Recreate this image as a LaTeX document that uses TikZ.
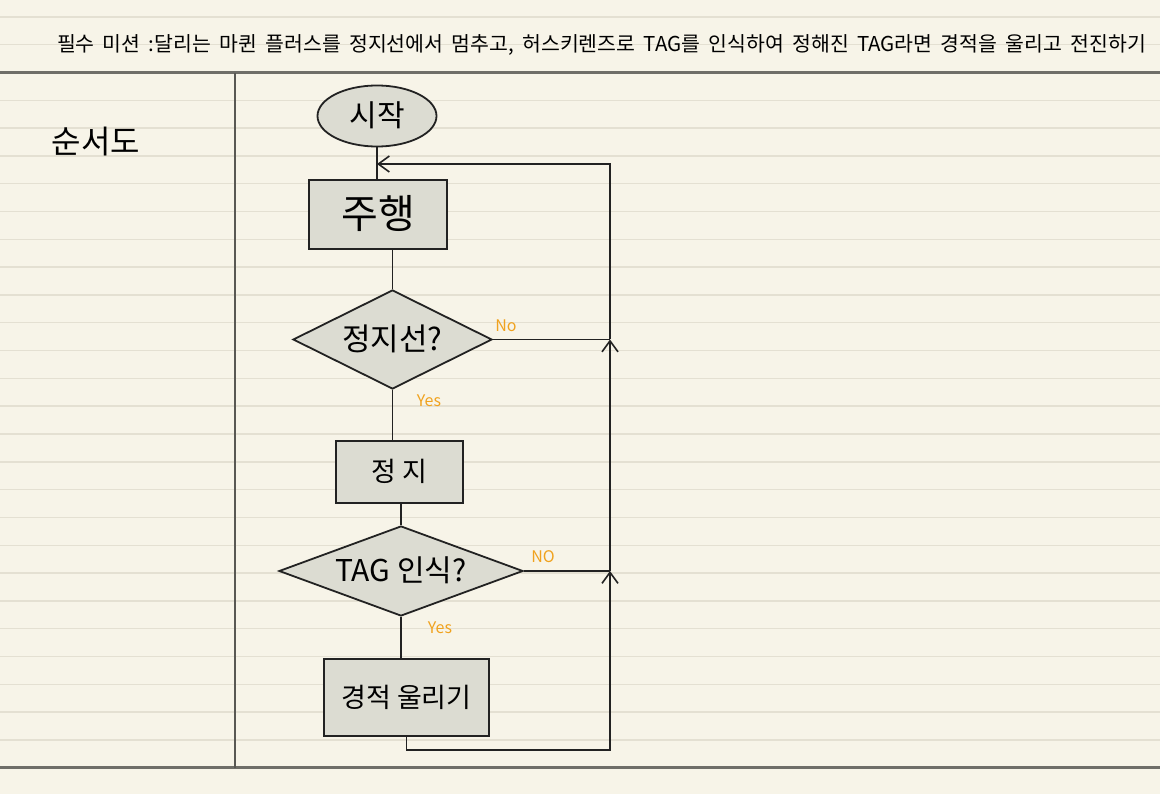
\documentclass[tikz,border=0pt]{standalone}
\usepackage{fontspec}
\setmainfont{Noto Sans CJK KR}
\newfontfamily\titlefont[WordSpace=1.8]{Noto Sans CJK KR}
\usetikzlibrary{shapes.geometric,arrows.meta}
\definecolor{paper}{HTML}{F7F4E8}
\definecolor{ruleline}{HTML}{E4E0D2}
\definecolor{darkrule}{HTML}{6F6E68}
\definecolor{ink}{HTML}{222222}
\definecolor{boxfill}{HTML}{DCDCD2}
\definecolor{ans}{HTML}{F0A21E}
\newcommand{\flattext}[1]{\smash{\raisebox{-0.36em}{\makebox[0pt]{#1}}}}
\tikzset{
  rule/.style={draw=ruleline, line width=1.4pt},
  hrule/.style={draw=darkrule, line width=2.4pt},
  shapebox/.style={draw=ink, line width=1.8pt, fill=boxfill, rectangle, inner sep=0pt, font=\fontsize{30}{34}\selectfont},
  decide/.style={draw=ink, line width=1.8pt, fill=boxfill, diamond, inner sep=0pt, font=\fontsize{31}{35}\selectfont},
  link/.style={draw=ink, line width=1.8pt},
  flowarrow/.style={link, -{Straight Barb[length=11pt, width=16pt, line width=1.6pt]}},
  answer/.style={text=ans, font=\fontsize{16}{18}\selectfont, inner sep=0pt}
}
\begin{document}
\begin{tikzpicture}[x=1pt,y=-1pt]
\fill[paper] (0,0) rectangle (1160,794);
\useasboundingbox (0,0) rectangle (1160,794);
\foreach \k in {0,...,28} \draw[rule] (0,{17+27.8*\k}) -- (1160,{17+27.8*\k});
\draw[hrule] (0,72.6) -- (1160,72.6);
\draw[hrule] (0,767.5) -- (1160,767.5);
\draw[draw=darkrule!80!black, line width=1.6pt] (235,72.6) -- (235,767.5);

\node (title) at (601.5,45) {\titlefont\fontsize{20.5}{23}\selectfont 필수 미션 :달리는 마퀸 플러스를 정지선에서 멈추고, 허스키렌즈로 TAG를 인식하여 정해진 TAG라면 경적을 울리고 전진하기};
\node (heading) at (96,142) {\fontsize{32}{36}\selectfont 순서도};

\node[shapebox, ellipse, minimum width=119pt, minimum height=61pt] (start) at (377,116) {\flattext{시작}};
\node[shapebox, minimum width=138pt, minimum height=69pt, font=\fontsize{40}{44}\selectfont] (drive) at (378,214.5) {\flattext{주행}};
\node[decide, minimum width=199pt, minimum height=99pt] (d1) at (392.5,339.5) {\flattext{정지선?}};
\node[shapebox, minimum width=127pt, minimum height=62pt, font=\fontsize{27}{31}\selectfont] (stop) at (399.5,472) {\flattext{정 지}};
\node[decide, minimum width=244pt, minimum height=90pt, font=\fontsize{30}{34}\selectfont] (d2) at (401,571) {\flattext{TAG 인식?}};
\node[shapebox, minimum width=165pt, minimum height=77pt, font=\fontsize{27}{31}\selectfont] (horn) at (406.5,697.5) {\flattext{경적 울리기}};

\node[answer] (no1) at (506,326) {No};
\node[answer] (yes1) at (429,401) {Yes};
\node[answer] (no2) at (543,557) {NO};
\node[answer] (yes2) at (440,628) {Yes};

\coordinate (rb) at (610,750);
\coordinate (rt) at (610,164);
\coordinate (j1) at (d1.east -| rb);
\coordinate (j2) at (d2.east -| rb);
\coordinate (mt) at (start.south |- rt);

\draw[link] (start.south) -- (start.south |- drive.north);
\draw[link] (d1.north |- drive.south) -- (d1.north);
\draw[link] (d1.south) -- (d1.south |- stop.north);
\draw[link] (d2.north |- stop.south) -- (d2.north);
\draw[link] (d2.south) -- (d2.south |- horn.north);
\draw[link] (d1.east) -- (j1);
\draw[link] (d2.east) -- (j2);
\draw[flowarrow] (horn.south) -- (horn.south |- rb) -- (rb) -- (j2);
\draw[flowarrow] (j2) -- (j1);
\draw[flowarrow] (j1) -- (rt) -- (mt);
\end{tikzpicture}
\end{document}
